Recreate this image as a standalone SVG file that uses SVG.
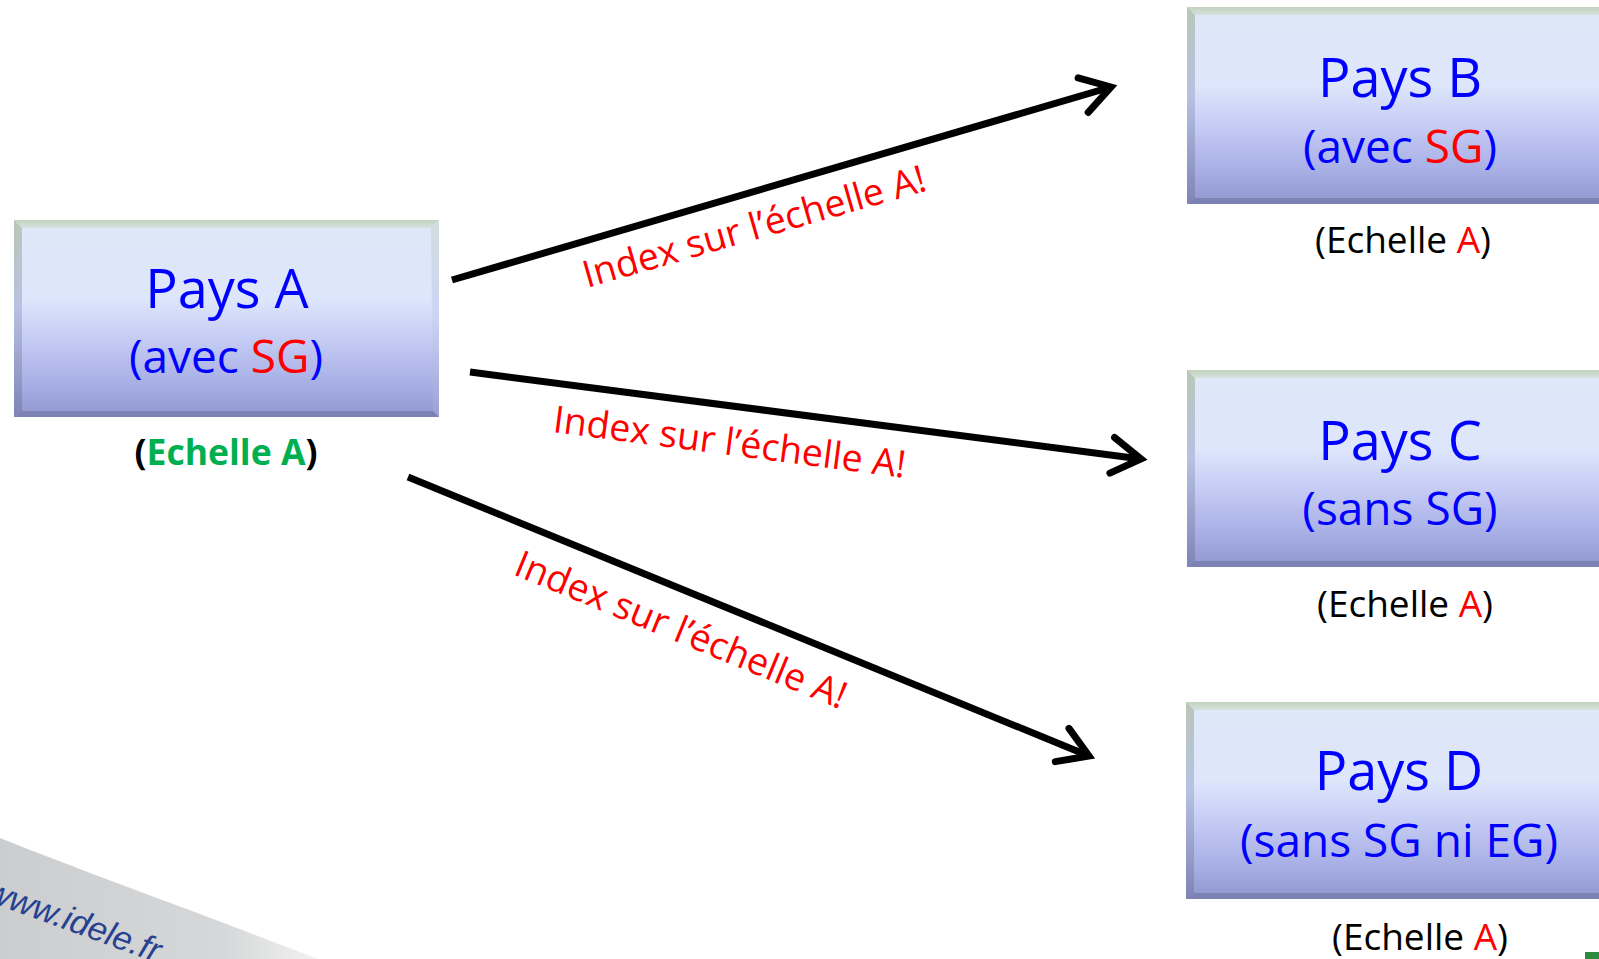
<svg xmlns="http://www.w3.org/2000/svg" xmlns:xlink="http://www.w3.org/1999/xlink" width="1599" height="959" viewBox="0 0 1599 959">
  <style>
    text { font-family: "Open Sans", "Noto Sans", sans-serif; }
    .title { font-size: 54px; fill: #0000ff; text-anchor: middle; }
    .sub { font-size: 46px; fill: #0000ff; text-anchor: middle; }
    .scale { font-size: 37px; fill: #000000; text-anchor: middle; }
    .bold { font-weight: bold; font-size: 35.5px; }
    .red { fill: #ff0000; }
    .green { fill: #00b050; }
    .lbl { font-size: 37.5px; fill: #ff0000; }
    .conn { stroke: #000000; stroke-width: 7; fill: none; marker-end: url(#arrow); }
    .wm { font-family: "Liberation Sans", Arial, sans-serif; font-size: 34px; font-style: italic; fill: #26418f; }
  </style>
  <defs>
    <linearGradient id="gBody" x1="0" y1="0" x2="0" y2="1">
      <stop offset="0" stop-color="#dfe8f8"/>
      <stop offset="0.4" stop-color="#dde6fb"/>
      <stop offset="0.58" stop-color="#c8cff6"/>
      <stop offset="0.82" stop-color="#a9b0e6"/>
      <stop offset="1" stop-color="#9097cf"/>
    </linearGradient>
    <linearGradient id="gTop" x1="0" y1="0" x2="0" y2="1">
      <stop offset="0" stop-color="#c2d2be"/>
      <stop offset="1" stop-color="#d6e2df"/>
    </linearGradient>
    <linearGradient id="gLeft" x1="0" y1="0" x2="0" y2="1">
      <stop offset="0" stop-color="#b9c7b8"/>
      <stop offset="0.45" stop-color="#b7c1e2"/>
      <stop offset="1" stop-color="#7e84b6"/>
    </linearGradient>
    <linearGradient id="gRight" x1="0" y1="0" x2="0" y2="1">
      <stop offset="0" stop-color="#d3dde0"/>
      <stop offset="0.5" stop-color="#ccd4f4"/>
      <stop offset="1" stop-color="#9aa0d4"/>
    </linearGradient>
    <linearGradient id="gWm" x1="0" y1="0" x2="1" y2="0">
      <stop offset="0" stop-color="#cbcdcf"/>
      <stop offset="0.7" stop-color="#d5d7d8"/>
      <stop offset="1" stop-color="#f2f2f2"/>
    </linearGradient>
    <g id="box">
      <rect x="0" y="0" width="425" height="197" fill="url(#gBody)"/>
      <polygon points="0,0 425,0 417,8 8,8" fill="url(#gTop)"/>
      <polygon points="0,0 8,8 8,191 0,197" fill="url(#gLeft)"/>
      <polygon points="425,0 425,197 419,191 417,8" fill="url(#gRight)"/>
      <polygon points="0,197 8,191 419,191 425,197" fill="#7c82b3"/>
    </g>
    <marker id="arrow" markerUnits="userSpaceOnUse" markerWidth="60" markerHeight="60" viewBox="-40 -30 60 60" refX="0" refY="0" orient="auto">
      <path d="M -29,-18 L 0,0 L -29,18" fill="none" stroke="#000000" stroke-width="7" stroke-linecap="round" stroke-linejoin="miter"/>
    </marker>
  </defs>

  <rect x="0" y="0" width="1599" height="959" fill="#ffffff"/>

  <g id="watermark">
    <path d="M0,838 C100,878 200,913 318,959 L0,959 Z" fill="url(#gWm)"/>
    <text class="wm" transform="translate(-16,900) rotate(20)">www.idele.fr</text>
    <rect x="1585" y="952" width="14" height="7" fill="#2e8b3e"/>
  </g>

  <g id="connectors">
    <path class="conn" d="M452,280 L1111,87"/>
    <path class="conn" d="M470,372 L1141,459"/>
    <path class="conn" d="M408,477 L1089,756"/>
    <text class="lbl" transform="translate(587,288) rotate(-16)">Index sur l’échelle A!</text>
    <text class="lbl" transform="translate(552,432) rotate(7.4)">Index sur l’échelle A!</text>
    <text class="lbl" transform="translate(512,574) rotate(22.4)">Index sur l’échelle A!</text>
  </g>

  <g id="pays-a">
    <use xlink:href="#box" x="14" y="220"/>
    <text class="title" x="227" y="308">Pays A</text>
    <text class="sub" x="226" y="373">(avec <tspan class="red">SG</tspan>)</text>
    <text class="scale bold" x="226" y="465">(<tspan class="green">Echelle A</tspan>)</text>
  </g>

  <g id="pays-b">
    <use xlink:href="#box" x="1187" y="7"/>
    <text class="title" x="1400" y="97">Pays B</text>
    <text class="sub" x="1400" y="163">(avec <tspan class="red">SG</tspan>)</text>
    <text class="scale" x="1403" y="253">(Echelle <tspan class="red">A</tspan>)</text>
  </g>

  <g id="pays-c">
    <use xlink:href="#box" x="1187" y="370"/>
    <text class="title" x="1400" y="460">Pays C</text>
    <text class="sub" x="1400" y="525">(sans SG)</text>
    <text class="scale" x="1405" y="617">(Echelle <tspan class="red">A</tspan>)</text>
  </g>

  <g id="pays-d">
    <use xlink:href="#box" x="1186" y="702"/>
    <text class="title" x="1399" y="790">Pays D</text>
    <text class="sub" x="1399" y="857">(sans SG ni EG)</text>
    <text class="scale" x="1420" y="950">(Echelle <tspan class="red">A</tspan>)</text>
  </g>
</svg>
